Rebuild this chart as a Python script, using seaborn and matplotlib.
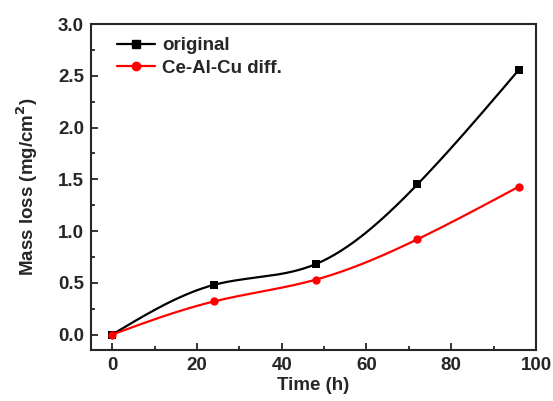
import numpy as np
import pandas as pd
import matplotlib
matplotlib.use("Agg")
import matplotlib.pyplot as plt
import seaborn as sns
from matplotlib.ticker import MultipleLocator

time_h = [0, 24, 48, 72, 96]
original = [0.0, 0.48, 0.68, 1.45, 2.56]
ce_al_cu = [0.0, 0.32, 0.53, 0.92, 1.43]


def spline(x, y, n=200):
    # natural cubic spline for the smooth connecting line
    x = np.asarray(x, float)
    y = np.asarray(y, float)
    k = len(x)
    h = np.diff(x)
    A = np.zeros((k, k))
    b = np.zeros(k)
    A[0, 0] = A[-1, -1] = 1
    for i in range(1, k - 1):
        A[i, i - 1] = h[i - 1]
        A[i, i] = 2 * (h[i - 1] + h[i])
        A[i, i + 1] = h[i]
        b[i] = 6 * ((y[i + 1] - y[i]) / h[i] - (y[i] - y[i - 1]) / h[i - 1])
    m = np.linalg.solve(A, b)
    xs = np.linspace(x[0], x[-1], n)
    idx = np.clip(np.searchsorted(x, xs) - 1, 0, k - 2)
    x0, x1 = x[idx], x[idx + 1]
    hh = x1 - x0
    t0, t1 = x1 - xs, xs - x0
    ys = (m[idx] * t0**3 / (6 * hh) + m[idx + 1] * t1**3 / (6 * hh)
          + (y[idx] / hh - m[idx] * hh / 6) * t0
          + (y[idx + 1] / hh - m[idx + 1] * hh / 6) * t1)
    return xs, ys


sns.set_style("ticks")
plt.rcParams['font.family'] = ['Liberation Sans', 'DejaVu Sans']
plt.rcParams['font.weight'] = 'bold'
fs = 13.5

fig = plt.figure(figsize=(5.53, 4.01), dpi=100)
ax = fig.add_axes([0.1646, 0.127, 0.8046, 0.813])

series = [("original", original, "black", "s"),
          ("Ce-Al-Cu diff.", ce_al_cu, "red", "o")]
for name, vals, col, mk in series:
    xs, ys = spline(time_h, vals)
    sns.lineplot(x=xs, y=ys, ax=ax, color=col, lw=1.6)
    sns.scatterplot(x=time_h, y=vals, ax=ax, color=col, marker=mk, s=36,
                    edgecolor=col, linewidth=0, zorder=3)
    ax.plot([], [], color=col, marker=mk, ms=6, lw=1.6, label=name)

ax.set_xlim(-5, 100)
ax.set_ylim(-0.15, 3.0)
ax.xaxis.set_major_locator(MultipleLocator(20))
ax.xaxis.set_minor_locator(MultipleLocator(10))
ax.yaxis.set_major_locator(MultipleLocator(0.5))
ax.yaxis.set_minor_locator(MultipleLocator(0.25))
ax.tick_params(which='both', direction='in', top=False, right=False,
               labelsize=fs, width=1.3)
ax.tick_params(which='major', length=5, pad=5)
ax.tick_params(which='minor', length=3)
for lab in ax.get_xticklabels() + ax.get_yticklabels():
    lab.set_fontweight('bold')
for sp in ax.spines.values():
    sp.set_linewidth(1.5)
    sp.set_visible(True)

ax.set_xlabel("Time (h)", fontsize=fs, fontweight='bold', labelpad=2)
ax.set_ylabel("Mass loss (mg/cm$^\\mathbf{2}$)", fontsize=fs, fontweight='bold',
              labelpad=13)

ax.legend(loc='upper left', frameon=False, handlelength=2.0,
          handletextpad=0.4, borderaxespad=0.3, labelspacing=0.3,
          bbox_to_anchor=(0.03, 1.0),
          prop={'weight': 'bold', 'size': fs})

fig.savefig("out.png", dpi=100)
